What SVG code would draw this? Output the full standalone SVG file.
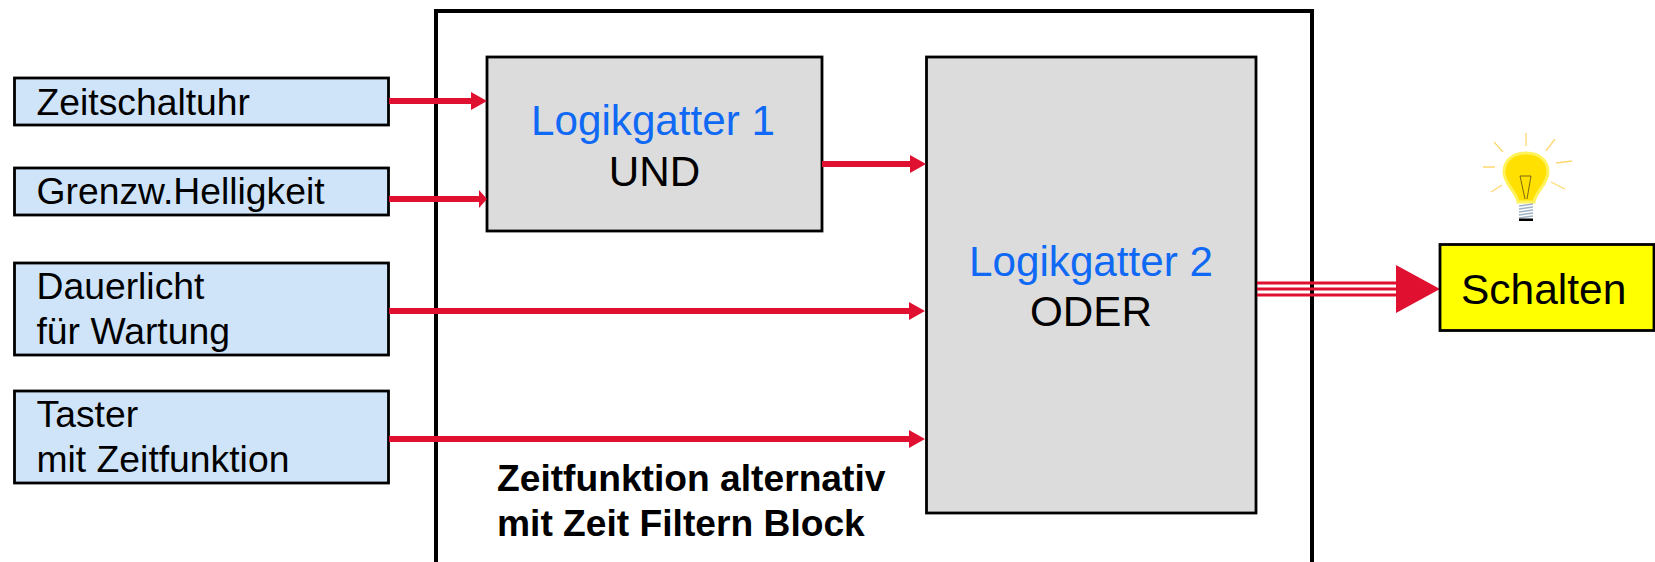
<svg xmlns="http://www.w3.org/2000/svg" width="1655" height="562" viewBox="0 0 1655 562">
<style>
text{font-family:"Liberation Sans",Arial,sans-serif;fill:#000}
.in rect{fill:#cfe4f9;stroke:#000;stroke-width:2.800}
.in text{font-size:37.300px}
.gate rect{fill:#dcdcdc;stroke:#000;stroke-width:2.800}
.gate text{font-size:42.200px;text-anchor:middle}
.blue{fill:#0f69f5}
.wire{stroke:#e01030;stroke-width:6;fill:none}
.head{fill:#e01030}
.ray{stroke:#ffd873;stroke-width:1.300;fill:none}
.note{font-weight:bold;font-size:37.200px}
</style>
<rect width="1655" height="562" fill="#fff"/>
<g id="frame"><rect x="436" y="11" width="876" height="570" fill="none" stroke="#000" stroke-width="4"/></g>
<g id="n-zeitschaltuhr" class="in"><rect x="14.500" y="78" width="374" height="47"/><text x="36.500" y="115">Zeitschaltuhr</text></g>
<g id="n-grenzw" class="in"><rect x="14.500" y="168" width="374" height="47"/><text x="36.500" y="204">Grenzw.Helligkeit</text></g>
<g id="n-dauerlicht" class="in"><rect x="14.500" y="263" width="374" height="92"/><text x="36.500" y="299">Dauerlicht</text><text x="36.500" y="344">für Wartung</text></g>
<g id="n-taster" class="in"><rect x="14.500" y="391" width="374" height="92"/><text x="36.500" y="427">Taster</text><text x="36.500" y="472">mit Zeitfunktion</text></g>
<g id="n-gatter1" class="gate"><rect x="487" y="57" width="335" height="174"/><text x="653" y="135" class="blue">Logikgatter 1</text><text x="654.500" y="186">UND</text></g>
<g id="n-gatter2" class="gate"><rect x="926.500" y="57" width="329.500" height="456"/><text x="1091" y="276" class="blue">Logikgatter 2</text><text x="1091" y="326">ODER</text></g>
<g id="connectors">
<path class="wire" d="M389 101H472M389 199H482M822 164H911M389 311H910M389 439H910"/>
<path class="head" d="M471 92L487 101L471 110ZM479 190L487 199L479 208ZM910 155L926 164L910 173ZM909 302L925 311L909 320ZM909 430L925 439L909 448Z"/>
<path d="M1257 283H1397M1257 289H1397M1257 295H1397" stroke="#e01030" stroke-width="3" fill="none"/>
<path class="head" d="M1396 265L1440 289L1396 313Z"/>
</g>
<g id="n-schalten"><rect x="1440" y="244.500" width="214" height="86" fill="#ff0" stroke="#000" stroke-width="2.800"/><text x="1461" y="304" font-size="42.500">Schalten</text></g>
<g id="lamp">
<path class="ray" d="M1526 133V146M1494 142L1503 152M1555 139L1546 151M1483 167H1495M1556 163L1572 161M1491 192L1502 185M1551 182L1565 189"/>
<path d="M1526 153C1509 153 1504 164 1504 172C1504 184 1516 191 1518 202H1534C1536 191 1548 184 1548 172C1548 164 1543 153 1526 153Z" fill="#ffe000" stroke="#fff25a" stroke-width="3"/>
<path d="M1520 176L1525 199M1531 176L1527 199M1520 176H1531" stroke="#5a4c10" stroke-width="0.800" fill="none"/>
<path d="M1519 206L1533 204M1519 209L1533 207M1519 212L1533 210M1519 215L1533 213M1519 218L1533 216" stroke="#9fb3c4" stroke-width="1.500" fill="none"/>
<rect x="1519" y="218.500" width="14" height="2.500" fill="#000"/>
</g>
<g id="note"><text class="note" x="497" y="491">Zeitfunktion alternativ</text><text class="note" x="497" y="536">mit Zeit Filtern Block</text></g>
</svg>
